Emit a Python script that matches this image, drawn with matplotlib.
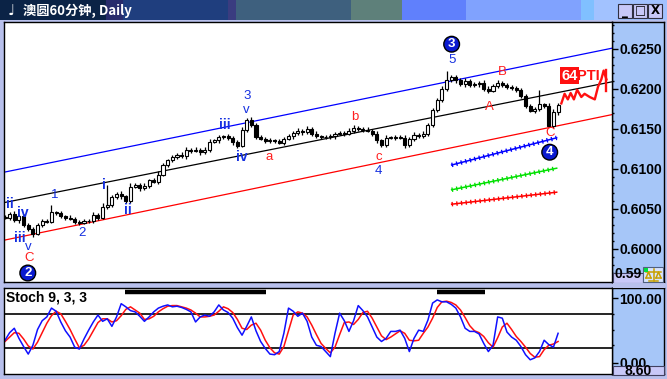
import numpy as np
import matplotlib.pyplot as plt
from matplotlib import transforms
from matplotlib.patches import Rectangle

plt.rcParams['font.family'] = ['Liberation Sans', 'DejaVu Sans']

# 60 minute bars, closing prices (open = previous close)
close = [0.6039, 0.6044, 0.6036, 0.6041, 0.6030, 0.6025, 0.6019, 0.6030, 0.6035, 0.6034,
         0.6046, 0.6045, 0.6041, 0.6039, 0.6038, 0.6034, 0.6033, 0.6035, 0.6035, 0.6043,
         0.6039, 0.6053, 0.6055, 0.6065, 0.6069, 0.6066, 0.6060, 0.6078, 0.6080, 0.6076,
         0.6079, 0.6086, 0.6084, 0.6093, 0.6105, 0.6111, 0.6115, 0.6118, 0.6116, 0.6124,
         0.6123, 0.6124, 0.6121, 0.6124, 0.6134, 0.6136, 0.6140, 0.6141, 0.6139, 0.6134,
         0.6129, 0.6149, 0.6161, 0.6155, 0.6140, 0.6138, 0.6135, 0.6136, 0.6135, 0.6133,
         0.6138, 0.6141, 0.6145, 0.6148, 0.6146, 0.6150, 0.6144, 0.6141, 0.6140, 0.6140,
         0.6141, 0.6144, 0.6145, 0.6144, 0.6148, 0.6151, 0.6150, 0.6149, 0.6148, 0.6144,
         0.6136, 0.6130, 0.6139, 0.6139, 0.6140, 0.6139, 0.6130, 0.6138, 0.6143, 0.6141,
         0.6144, 0.6155, 0.6174, 0.6186, 0.6200, 0.6211, 0.6215, 0.6211, 0.6206, 0.6210,
         0.6205, 0.6206, 0.6208, 0.6200, 0.6198, 0.6204, 0.6208, 0.6205, 0.6203, 0.6201,
         0.6199, 0.6191, 0.6179, 0.6173, 0.6175, 0.6181, 0.6179, 0.6154, 0.6171, 0.6180]
# wick extensions in pips
wick_up = [3, 2, 4, 2, 3, 2, 2, 3, 2, 3, 9, 2, 3, 2, 3, 2, 2, 3, 2, 3,
           2, 4, 25, 3, 2, 3, 2, 4, 3, 2, 3, 2, 3, 4, 3, 2, 3, 2, 3, 4,
           2, 3, 2, 3, 4, 2, 3, 2, 3, 2, 2, 3, 3, 4, 2, 3, 2, 3, 2, 3,
           2, 3, 2, 3, 2, 4, 2, 3, 2, 2, 3, 2, 3, 2, 3, 4, 3, 2, 3, 2,
           3, 2, 3, 2, 3, 2, 3, 2, 3, 2, 4, 3, 2, 3, 4, 11, 3, 2, 3, 4,
           2, 3, 2, 3, 4, 2, 3, 2, 3, 2, 3, 2, 3, 2, 3, 18, 2, 3, 4, 3]
wick_dn = [2, 3, 2, 4, 2, 3, 4, 2, 3, 2, 2, 3, 2, 3, 2, 3, 3, 2, 3, 2,
           3, 2, 3, 2, 3, 4, 2, 3, 2, 3, 2, 3, 2, 3, 2, 3, 2, 3, 2, 3,
           3, 2, 3, 2, 3, 2, 3, 2, 3, 4, 3, 2, 3, 2, 3, 2, 3, 2, 3, 2,
           3, 2, 3, 2, 3, 2, 3, 2, 3, 2, 2, 3, 2, 3, 2, 3, 2, 3, 2, 3,
           3, 2, 3, 2, 3, 2, 4, 2, 3, 2, 2, 3, 2, 3, 2, 3, 2, 3, 2, 3,
           3, 2, 3, 2, 3, 2, 3, 2, 3, 2, 3, 2, 3, 2, 3, 2, 3, 2, 3, 3]

# Stoch 9,3,3
stoch_k = [33, 45, 52, 36, 23, 11, 25, 50, 64, 70, 84, 79, 62, 48, 38, 22, 19, 35, 49, 62,
           73, 63, 67, 55, 70, 91, 86, 80, 78, 71, 63, 70, 78, 84, 87, 89, 86, 87, 85, 82,
           78, 62, 70, 73, 71, 78, 89, 81, 77, 68, 53, 41, 55, 70, 48, 31, 20, 11, 10, 15,
           44, 84, 79, 71, 76, 63, 38, 25, 23, 15, 7, 44, 76, 64, 47, 64, 88, 80, 70, 54,
           38, 31, 36, 47, 47, 49, 36, 15, 36, 49, 47, 65, 92, 97, 94, 94, 90, 84, 70, 52,
           47, 47, 43, 28, 15, 25, 70, 68, 46, 38, 33, 23, 10, 2, 5, 15, 33, 26, 22, 44]
stoch_d = [31, 38, 45, 44, 35, 24, 19, 30, 45, 60, 72, 79, 75, 63, 50, 35, 21, 25, 35, 48,
           61, 67, 67, 62, 64, 72, 82, 86, 81, 76, 66, 67, 71, 78, 83, 87, 88, 88, 86, 84,
           81, 76, 70, 70, 71, 73, 79, 86, 83, 77, 66, 52, 50, 57, 60, 49, 33, 21, 13, 11,
           23, 48, 73, 78, 76, 70, 57, 42, 28, 20, 13, 22, 42, 61, 62, 58, 66, 77, 79, 68,
           54, 40, 34, 38, 43, 48, 44, 33, 32, 33, 44, 54, 68, 85, 94, 95, 93, 89, 81, 69,
           56, 48, 45, 39, 29, 22, 37, 54, 60, 50, 39, 31, 22, 12, 6, 7, 18, 25, 27, 31]
ob_start = [25.8, 92.9]
ob_end = [56.1, 103.2]

price_ticks = [0.6000, 0.6050, 0.6100, 0.6150, 0.6200, 0.6250]

# trend channel (bar, price)
chan_x = [-0.2, 130.6]
chan_top = [0.6096, 0.6251]
chan_mid = [0.6058, 0.6209]
chan_low = [0.6011, 0.6168]

fib_x = [96.1, 118.7]
fib_blue = [0.6105, 0.6139]
fib_green = [0.6074, 0.6101]
fib_red = [0.6056, 0.6071]

proj_x = [119.7, 120.4, 121.1, 121.7, 122.4, 123.1, 124.0, 124.7, 125.8, 126.9, 127.6, 128.3, 128.8, 129.4]
proj_y = [0.6182, 0.6194, 0.6187, 0.6195, 0.6187, 0.6199, 0.6190, 0.6194, 0.6190, 0.6187, 0.6203, 0.6212, 0.6223, 0.6212]

# Elliott wave labels
wave_txt = ['ii', 'iv', 'iii', 'v', 'C', '1', '2', 'i', 'ii', 'iii', 'iv', 'v', '3',
            'a', 'b', 'c', '4', '5', 'A', 'B', 'C']
wave_x = [1.1, 3.9, 3.2, 4.9, 5.2, 10.8, 16.6, 21.3, 26.5, 47.3, 51.0, 52.0, 52.0,
          56.8, 75.3, 80.4, 80.4, 96.1, 104.3, 106.9, 117.2]
wave_y = [0.6056, 0.6045, 0.6014, 0.6003, 0.5989, 0.6068, 0.6020, 0.6080, 0.6049, 0.6155, 0.6115,
          0.6174, 0.6191, 0.6115, 0.6165, 0.6115, 0.6098, 0.6236, 0.6178, 0.6221, 0.6145]
wave_col = ['b', 'b', 'b', 'b', 'r', 'b', 'b', 'b', 'b', 'b', 'b', 'b', 'b',
            'r', 'r', 'r', 'b', 'b', 'r', 'r', 'r']
circ_txt = ['2', '3', '4']
circ_x = [4.9, 96.1, 117.2]
circ_y = [0.5970, 0.6256, 0.6121]

BLUE = '#1530e0'
RED = '#ff2020'
FRAME = '#b8c0ec'
PANEL = '#a6c6f8'
W, H = 667, 379


def rect(x0, y0, x1, y1):
    return [x0 / W, 1 - y1 / H, (x1 - x0) / W, (y1 - y0) / H]


fig = plt.figure(figsize=(W / 100, H / 100), dpi=100, facecolor=FRAME)
px = transforms.Affine2D().scale(1 / W, -1 / H).translate(0, 1) + fig.transFigure

# title bar
bands = [(0, 106, '#0b2346'), (106, 123, '#282c6c'), (123, 228, '#1f3e7e'), (228, 236, '#3a3c80'),
         (236, 351, '#3e607e'), (351, 402, '#5e807a'), (402, 466, '#6080fc'), (466, 581, '#80a2fe'),
         (581, 594, '#80c0ff'), (594, 667, '#a2c2ff')]
for x0, x1, c in bands:
    fig.patches.append(Rectangle((x0, 0), x1 - x0, 20, transform=px, fc=c, ec='none', zorder=2))
fig.text(11 / W, 1 - 11 / H, '♩', color='white', fontsize=11, fontweight='bold',
         ha='center', va='center', family=['DejaVu Sans'], zorder=3)
fig.text(23 / W, 1 - 11 / H, '澳圆60分钟, Daily', color='white', fontsize=9.5, fontweight='bold',
         ha='left', va='center', family=['Noto Sans CJK SC', 'DejaVu Sans'], zorder=3)
for bx, sym in zip([618, 633, 648], ['_', '□', 'X']):
    fig.patches.append(Rectangle((bx, 4), 14, 14, transform=px, fc='#c8c8f8', ec='#303040', lw=0.8, zorder=2))
    fig.text((bx + 7) / W, 1 - 11 / H, sym, fontsize=8.5, fontweight='bold', ha='center', va='center',
             family=['DejaVu Sans'], zorder=3)

# right scale backgrounds
for y0, y1 in [(22, 282), (288, 374)]:
    bg = fig.add_axes(rect(612, y0, 664, y1), facecolor=PANEL)
    bg.set_xticks([])
    bg.set_yticks([])
    for s in bg.spines.values():
        s.set_color('black')
        s.set_linewidth(1)
    bg.set_zorder(0)

n = len(close)
idx = np.arange(n)
c = np.array(close)
o = np.r_[c[0], c[:-1]]
hi = np.maximum(o, c) + np.array(wick_up) * 0.0001
lo = np.minimum(o, c) - np.array(wick_dn) * 0.0001
xlim = (-0.215, 130.6)

ax = fig.add_axes(rect(4, 22, 612, 282), facecolor='white')
ax.set_zorder(1)
ax.set_xlim(*xlim)
ax.set_ylim(0.595875, 0.628375)

ax.plot(chan_x, chan_top, color='#0000ff', lw=0.9)
ax.plot(chan_x, chan_mid, color='black', lw=0.9)
ax.plot(chan_x, chan_low, color='#ff0000', lw=0.9)

for fy_, col in [(fib_blue, '#0000ff'), (fib_green, '#00e000'), (fib_red, '#ff0000')]:
    ax.plot(fib_x, fy_, color=col, lw=1.1)
    ax.plot(fib_x, fy_, color=col, lw=3.2, ls=(0, (0.3, 0.75)))

ax.vlines(idx, lo, hi, color='black', lw=0.9, zorder=3)
body = np.maximum(np.abs(c - o), 0.00004)
ax.bar(idx, body, bottom=np.minimum(o, c), width=0.66,
       color=np.where(c >= o, 'white', 'black'), edgecolor='black', lw=0.8, zorder=4)

ax.plot(proj_x, proj_y, color='#ff1010', lw=1.7, zorder=5)
ax.plot([proj_x[-1], proj_x[-1]], [0.6224, 0.6197], color='#ff1010', lw=1.7, zorder=5)
ax.text(121.5, 0.62165, '64', color='white', fontsize=10.5, fontweight='bold', ha='center', va='center',
        bbox=dict(boxstyle='square,pad=0.1', fc='#ff1010', ec='none'), zorder=6)
ax.text(123.1, 0.62165, 'PTI', color='#ff1010', fontsize=10.5, fontweight='bold', ha='left', va='center', zorder=6)

for t, x, y, cc in zip(wave_txt, wave_x, wave_y, wave_col):
    bold = t in ('i', 'ii', 'iii', 'iv')
    ax.text(x, y, t, color=BLUE if cc == 'b' else RED, fontsize=10 if bold else 9.5,
            fontweight='bold' if bold else 'normal', ha='center', va='center', zorder=6)
for t, x, y in zip(circ_txt, circ_x, circ_y):
    ax.text(x, y, t, color='white', fontsize=9.5, fontweight='bold', ha='center', va='center', zorder=6,
            bbox=dict(boxstyle='circle,pad=0.14', fc='#0a1ad0', ec='black', lw=1))

ax.set_xticks([])
ax.yaxis.tick_right()
ax.set_yticks(price_ticks)
ax.set_yticklabels(['%.4f' % v for v in price_ticks])
ax.set_yticks(np.arange(0.596, 0.6285, 0.001), minor=True)
ax.tick_params(axis='y', which='major', direction='out', length=4.3, width=1, pad=0.8,
               labelsize=10, colors='black')
ax.tick_params(axis='y', which='minor', direction='out', length=1.5, width=1)
for lab in ax.get_yticklabels():
    lab.set_fontweight('bold')
for s in ax.spines.values():
    s.set_color('black')
    s.set_linewidth(1)

# lower stochastic panel
ax2 = fig.add_axes(rect(4, 288, 612, 374), facecolor='white')
ax2.set_zorder(1)
ax2.set_xlim(*xlim)
ax2.set_ylim(-20.6, 115.9)
ax2.axhline(75, color='black', lw=1.2)
ax2.axhline(20, color='black', lw=1.2)
ax2.hlines([110] * len(ob_start), ob_start, ob_end, color='black', lw=3.2)
ax2.plot(idx, stoch_d, color='#ff1010', lw=1.1)
ax2.plot(idx, stoch_k, color='#1010ff', lw=1.1)
ax2.text(0.3, 101, 'Stoch 9, 3, 3', fontsize=10, fontweight='bold', ha='left', va='center')
ax2.set_xticks([])
ax2.yaxis.tick_right()
ax2.set_yticks([-3, 100])
ax2.set_yticklabels(['0.00', '100.00'])
ax2.set_yticks([25, 50, 75], minor=True)
ax2.tick_params(axis='y', which='major', direction='out', length=4.3, width=1, pad=0.8, labelsize=10)
ax2.tick_params(axis='y', which='minor', direction='out', length=1.5, width=1)
for lab in ax2.get_yticklabels():
    lab.set_fontweight('bold')
for s in ax2.spines.values():
    s.set_color('black')
    s.set_linewidth(1)

# value boxes on the scales
fig.patches.append(Rectangle((613, 273), 30, 10, transform=px, fc='#c8c8f8', ec='#404060', lw=0.8, zorder=5))
fig.text(628 / W, 1 - 281 / H, '0.59', fontsize=10, fontweight='bold', ha='center', va='bottom', zorder=6)
fig.patches.append(Rectangle((613, 283), 52, 5, transform=px, fc=FRAME, ec='none', zorder=7))
fig.patches.append(Rectangle((643, 267), 20, 15, transform=px, fc='#d8e4ff', ec='#506080', lw=0.8, zorder=7))
fig.patches.append(Rectangle((644, 268), 4, 4, transform=px, fc='#00e040', ec='none', zorder=8))
for xs, ys in [([646, 661], [272, 272]), ([653.5, 653.5], [269, 281]), ([649, 658], [281, 281]),
               ([646, 648.5, 651], [278, 272, 278]), ([656, 658.5, 661], [278, 272, 278]),
               ([646, 651], [278, 278]), ([656, 661], [278, 278])]:
    fig.lines.append(plt.Line2D(xs, ys, transform=px, color='#c8a000', lw=1.1, zorder=8))
fig.patches.append(Rectangle((613, 366), 51, 9, transform=px, fc='#c8c8f8', ec='#404060', lw=0.8, zorder=5))
fig.text(638 / W, 1 - 371 / H, '8.60', fontsize=10, fontweight='bold', ha='center', va='center', zorder=6)

fig.savefig('out.png', dpi=100, facecolor=FRAME)
